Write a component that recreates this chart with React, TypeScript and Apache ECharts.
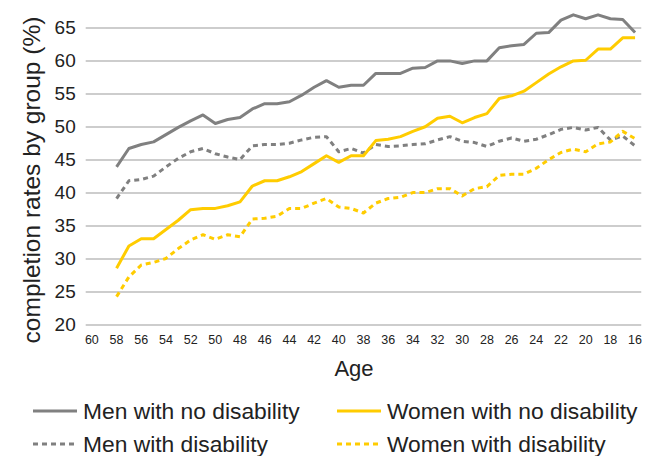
import React, { useEffect, useRef } from "react";
import * as echarts from "echarts";

const ages: string[] = [
  "60", "59", "58", "57", "56", "55", "54", "53", "52", "51", "50", "49", "48", "47", "46",
  "45", "44", "43", "42", "41", "40", "39", "38", "37", "36", "35", "34", "33", "32", "31",
  "30", "29", "28", "27", "26", "25", "24", "23", "22", "21", "20", "19", "18", "17", "16",
];

const menNoDisability: (number | null)[] = [
  null, null, 43.9, 46.7, 47.3, 47.7, 48.8, 49.9, 50.9, 51.8, 50.5, 51.1, 51.4, 52.7, 53.5,
  53.5, 53.8, 54.8, 56.0, 57.0, 56.0, 56.3, 56.3, 58.1, 58.1, 58.1, 58.9, 59.0, 60.0, 60.0,
  59.6, 60.0, 60.0, 62.0, 62.3, 62.5, 64.2, 64.3, 66.2, 67.0, 66.4, 67.0, 66.4, 66.3, 64.3,
];

const womenNoDisability: (number | null)[] = [
  null, null, 28.5, 31.9, 33.0, 33.0, 34.4, 35.8, 37.4, 37.6, 37.6, 38.0, 38.6, 41.0, 41.8,
  41.8, 42.4, 43.2, 44.4, 45.6, 44.6, 45.6, 45.6, 47.9, 48.1, 48.5, 49.3, 50.0, 51.3, 51.6,
  50.6, 51.4, 52.0, 54.3, 54.7, 55.4, 56.7, 58.0, 59.1, 60.0, 60.1, 61.8, 61.8, 63.5, 63.5,
];

const menDisability: (number | null)[] = [
  null, null, 39.1, 41.8, 42.0, 42.5, 43.9, 45.2, 46.2, 46.7, 45.9, 45.4, 45.0, 47.1, 47.3,
  47.3, 47.5, 48.0, 48.4, 48.5, 46.2, 46.7, 46.0, 47.3, 47.0, 47.1, 47.3, 47.4, 48.0, 48.5,
  47.8, 47.6, 47.0, 47.8, 48.3, 47.8, 48.1, 48.8, 49.6, 49.9, 49.5, 49.9, 48.0, 48.6, 47.1,
];

const womenDisability: (number | null)[] = [
  null, null, 24.2, 27.2, 29.0, 29.4, 30.0, 31.5, 32.8, 33.6, 32.9, 33.6, 33.3, 36.0, 36.1,
  36.4, 37.6, 37.6, 38.4, 39.1, 37.8, 37.6, 36.9, 38.4, 39.1, 39.3, 40.0, 40.0, 40.6, 40.6,
  39.5, 40.6, 40.9, 42.6, 42.8, 42.8, 43.7, 45.0, 46.1, 46.6, 46.2, 47.4, 47.7, 49.3, 48.2,
];

const seriesNames = [
  "Men with no disability",
  "Women with no disability",
  "Men with disability",
  "Women with disability",
];

const GRAY = "#808080";
const YELLOW = "#FFCC00";
const TEXT = "#222222";
const FONT = '"Liberation Sans", Arial, sans-serif';
const DASH = [5, 4];

// the chart canvas is shifted 10px above the page top so the 70 gridline falls outside it
const SHIFT = 10;

export default function App() {
  const ref = useRef<HTMLDivElement>(null);

  useEffect(() => {
    if (!ref.current) return;
    const chart = echarts.init(ref.current, null, { renderer: "svg" });

    const mkSeries = (name: string, data: (number | null)[], color: string, dashed: boolean) => ({
      name,
      type: "line",
      data,
      symbol: "none",
      showSymbol: false,
      connectNulls: false,
      color,
      lineStyle: {
        color,
        width: 3,
        type: dashed ? DASH : "solid",
        cap: "butt",
        join: "round",
      },
      z: dashed ? 2 : 3,
    });

    const legendItems = [
      { name: seriesNames[0], color: GRAY, dashed: false, x: 33, y: 411 },
      { name: seriesNames[1], color: YELLOW, dashed: false, x: 337, y: 411 },
      { name: seriesNames[2], color: GRAY, dashed: true, x: 33, y: 444 },
      { name: seriesNames[3], color: YELLOW, dashed: true, x: 337, y: 444 },
    ];

    const legendGraphics: any[] = [];
    legendItems.forEach((it) => {
      legendGraphics.push({
        type: "line",
        shape: { x1: it.x, y1: it.y + SHIFT, x2: it.x + 44, y2: it.y + SHIFT },
        style: {
          stroke: it.color,
          lineWidth: 3,
          lineDash: it.dashed ? DASH : null,
          lineCap: "butt",
        },
      });
      legendGraphics.push({
        type: "text",
        x: it.x + 50,
        y: it.y + SHIFT,
        style: {
          text: it.name,
          fontSize: 22.8,
          fontFamily: FONT,
          fill: TEXT,
          align: "left",
          verticalAlign: "middle",
        },
      });
    });

    chart.setOption({
      animation: false,
      backgroundColor: "#ffffff",
      grid: { left: 85.7, right: 2.2, top: -4.95 + SHIFT, bottom: 131.7, containLabel: false },
      xAxis: {
        type: "category",
        data: ages,
        boundaryGap: true,
        axisLine: { show: false },
        axisTick: { show: false },
        splitLine: { show: false },
        axisLabel: {
          interval: 1,
          fontSize: 12.5,
          fontFamily: FONT,
          color: TEXT,
          margin: 9,
        },
      },
      yAxis: {
        type: "value",
        min: 20,
        max: 70,
        interval: 5,
        axisLine: { show: false },
        axisTick: { show: false },
        axisLabel: {
          fontSize: 19,
          fontFamily: FONT,
          color: TEXT,
          margin: 10,
          formatter: (v: number) => (v >= 70 ? "" : String(v)),
        },
        splitLine: { show: true, lineStyle: { color: "#BDBDBD", width: 1.5 } },
      },
      graphic: [
        {
          type: "text",
          x: 31,
          y: 180 + SHIFT,
          rotation: Math.PI / 2,
          style: {
            text: "completion rates by group (%)",
            fontSize: 24.5,
            fontFamily: FONT,
            fill: TEXT,
            align: "center",
            verticalAlign: "middle",
          },
        },
        {
          type: "text",
          x: 354,
          y: 368 + SHIFT,
          style: {
            text: "Age",
            fontSize: 22,
            fontFamily: FONT,
            fill: TEXT,
            align: "center",
            verticalAlign: "middle",
          },
        },
        ...legendGraphics,
      ],
      series: [
        mkSeries(seriesNames[0], menNoDisability, GRAY, false),
        mkSeries(seriesNames[1], womenNoDisability, YELLOW, false),
        mkSeries(seriesNames[2], menDisability, GRAY, true),
        mkSeries(seriesNames[3], womenDisability, YELLOW, true),
      ],
    });

    return () => chart.dispose();
  }, []);

  return (
    <div
      ref={ref}
      style={{ position: "absolute", left: 0, top: -SHIFT, width: 645, height: 456 + SHIFT }}
    />
  );
}
